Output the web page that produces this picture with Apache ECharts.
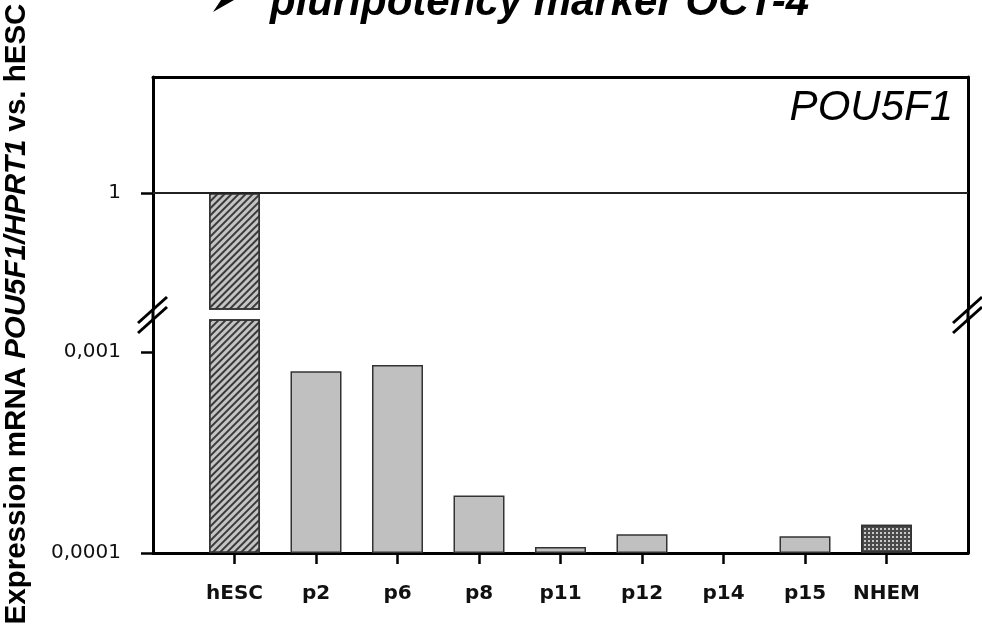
<!DOCTYPE html>
<html><head><meta charset="utf-8">
<script src="https://cdn.jsdelivr.net/npm/echarts@6/dist/echarts.min.js"></script>
<style>html,body{margin:0;padding:0;background:#fff}#c{width:982px;height:630px}</style>
</head><body><div id="c"></div>
<script>
// ---- data ----
const categories = ['hESC', 'p2', 'p6', 'p8', 'p11', 'p12', 'p14', 'p15', 'NHEM'];
const expression = [1, 0.00080, 0.00086, 0.000193, 0.000107, 0.000124, null, 0.000121, 0.000138];
const lowerTicks = [0.0001, 0.001];
const lowerTickLabels = ['0,0001', '0,001'];
const upperTicks = [1];
const upperTickLabels = ['1'];
const lowerRange = [0.0001, 0.00144];
const upperRange = [0.1, 10];
const titleText = 'pluripotency marker OCT-4';
const geneLabel = 'POU5F1';

// log transform so bars grow from the bottom of each axis segment
const base = lowerRange[0];
const t = v => Math.log10(v / base);
const idx = categories.map((c, i) => i);

const hatch = {symbol: 'rect', symbolSize: 1, color: '#3a3a3a', dashArrayX: [1, 0], dashArrayY: [2, 3], rotation: -Math.PI / 4};
const checker = {symbol: 'rect', symbolSize: 1, color: '#c8c8c8', dashArrayX: [2, 2], dashArrayY: [2, 2]};
function itemStyleFor(i) {
  const s = {color: '#c0c0c0', borderColor: '#333', borderWidth: 1.5};
  if (categories[i] === 'hESC') { s.color = '#c4c4c4'; s.decal = hatch; }
  if (categories[i] === 'NHEM') { s.color = '#4a4a4a'; s.decal = checker; }
  return s;
}
const lowerData = expression.map((v, i) => v == null ? null : {value: [i, t(v)], itemStyle: itemStyleFor(i)});
const upperData = expression.map((v, i) => (v == null || v < upperRange[0]) ? null : {value: [i, t(v)], itemStyle: itemStyleFor(i)});

const chart = echarts.init(document.getElementById('c'), null, {renderer: 'canvas'});
const axisLineStyle = {color: '#000', width: 3};
const labelFont = {fontFamily: 'DejaVu Sans', fontSize: 20, color: '#111'};

function fmtFrom(ticks, labels) {
  return function (v) {
    for (let i = 0; i < ticks.length; i++) if (Math.abs(t(ticks[i]) - v) < 1e-6) return labels[i];
    return '';
  };
}

chart.setOption({
  animation: false,
  backgroundColor: '#fff',
  grid: [
    {left: 153, right: 14, top: 77, height: 232},
    {left: 153, right: 14, top: 320, height: 233}
  ],
  xAxis: [
    {type: 'value', gridIndex: 0, min: -1, max: 9, position: 'top',
     axisLine: {show: true, onZero: false, lineStyle: axisLineStyle}, axisTick: {show: false}, axisLabel: {show: false}, splitLine: {show: false}},
    {type: 'value', gridIndex: 1, min: -1, max: 9, interval: 1, position: 'bottom',
     axisLine: {show: true, onZero: false, lineStyle: axisLineStyle},
     axisTick: {show: true, customValues: idx, length: 11, lineStyle: {color: '#000', width: 2.5}},
     axisLabel: {show: true, customValues: idx, margin: 31, formatter: v => categories[v] || '',
       fontFamily: 'DejaVu Sans', fontWeight: 'bold', fontSize: 20, color: '#111'},
     splitLine: {show: false}}
  ],
  yAxis: [
    {type: 'value', gridIndex: 0, min: t(upperRange[0]), max: t(upperRange[1]), position: 'left',
     axisLine: {show: true, onZero: false, lineStyle: axisLineStyle},
     axisTick: {show: true, customValues: upperTicks.map(t), length: 12, lineStyle: {color: '#000', width: 2.5}},
     axisLabel: Object.assign({show: true, customValues: upperTicks.map(t), margin: 32, formatter: fmtFrom(upperTicks, upperTickLabels)}, labelFont),
     splitLine: {show: false}},
    {type: 'value', gridIndex: 0, min: 0, max: 1, position: 'right',
     axisLine: {show: true, onZero: false, lineStyle: axisLineStyle}, axisTick: {show: false}, axisLabel: {show: false}, splitLine: {show: false}},
    {type: 'value', gridIndex: 1, min: 0, max: t(lowerRange[1]), position: 'left',
     axisLine: {show: true, onZero: false, lineStyle: axisLineStyle},
     axisTick: {show: true, customValues: lowerTicks.map(t), length: 12, lineStyle: {color: '#000', width: 2.5}},
     axisLabel: Object.assign({show: true, customValues: lowerTicks.map(t), margin: 32, formatter: fmtFrom(lowerTicks, lowerTickLabels)}, labelFont),
     splitLine: {show: false}},
    {type: 'value', gridIndex: 1, min: 0, max: 1, position: 'right',
     axisLine: {show: true, onZero: false, lineStyle: axisLineStyle}, axisTick: {show: false}, axisLabel: {show: false}, splitLine: {show: false}}
  ],
  series: [
    {type: 'bar', xAxisIndex: 0, yAxisIndex: 0, barWidth: 51, clip: true, data: upperData,
     markLine: {silent: true, symbol: 'none', label: {show: false}, lineStyle: {color: '#222', width: 2, type: 'solid'},
       data: upperTicks.map(v => ({yAxis: t(v)}))}},
    {type: 'bar', xAxisIndex: 1, yAxisIndex: 2, barWidth: 51, clip: true, data: lowerData}
  ]
});

// break marks and text, positioned from the axes
const upLB = chart.convertToPixel({xAxisIndex: 0, yAxisIndex: 0}, [-1, t(upperRange[0])]);
const upRB = chart.convertToPixel({xAxisIndex: 0, yAxisIndex: 0}, [9, t(upperRange[0])]);
const loLT = chart.convertToPixel({xAxisIndex: 1, yAxisIndex: 2}, [-1, t(lowerRange[1])]);
const upTop = chart.convertToPixel({xAxisIndex: 0, yAxisIndex: 0}, [9, t(upperRange[1])]);
const gapMid = (upLB[1] + loLT[1]) / 2;
const graphics = [];
[upLB[0], upRB[0]].forEach(x => {
  graphics.push({type: 'line', shape: {x1: x, y1: upLB[1], x2: x, y2: loLT[1]}, style: {stroke: '#000', lineWidth: 3}, z: 100});
  [-4.5, 5.5].forEach(dy => {
    graphics.push({type: 'line', shape: {x1: x - 15, y1: gapMid + dy + 13, x2: x + 14, y2: gapMid + dy - 13},
      style: {stroke: '#000', lineWidth: 3}, z: 101});
  });
});
graphics.push({type: 'polygon', z: 110, shape: {points: [[213, 12], [221, 0], [234, 0]]}, style: {fill: '#000'}});
graphics.push({type: 'text', x: 270, y: 24, z: 110, style: {text: titleText, font: 'italic bold 42px "Liberation Sans"', fill: '#000', textAlign: 'left', textVerticalAlign: 'bottom'}});
graphics.push({type: 'text', x: upRB[0] - 15, y: upTop[1] + 10, z: 110, style: {text: geneLabel, font: 'italic 42px "Liberation Sans"', fill: '#000', textAlign: 'right', textVerticalAlign: 'top'}});
graphics.push({type: 'text', x: 17, y: 314, rotation: Math.PI / 2, z: 110, style: {
  text: '{r|Expression mRNA }{i|POU5F1/HPRT1}{r| vs. hESC}', textAlign: 'center', textVerticalAlign: 'middle',
  rich: {r: {font: 'bold 29.5px "Liberation Sans"', fill: '#000'}, i: {font: 'italic bold 29.5px "Liberation Sans"', fill: '#000'}}}});
chart.setOption({graphic: graphics});
</script></body></html>
